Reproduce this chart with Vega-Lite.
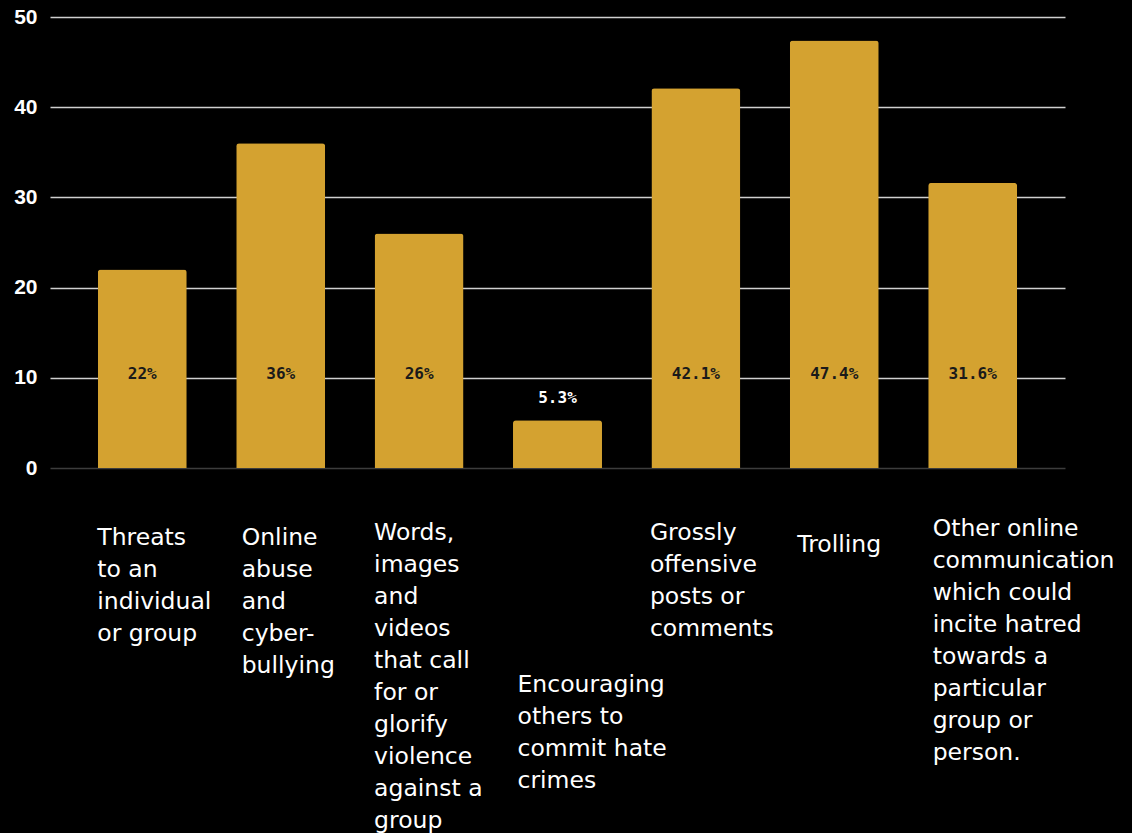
{
  "$schema": "https://vega.github.io/schema/vega-lite/v6.json",
  "width": 1015,
  "height": 451,
  "autosize": {"type": "none"},
  "padding": {"left": 50, "top": 17, "right": 67, "bottom": 365},
  "background": "#000000",
  "config": {"view": {"stroke": null}},
  "data": {
    "values": [
      {"category": "Threats|to an|individual|or group", "value": 22, "label": "22%"},
      {"category": "Online|abuse|and|cyber-|bullying", "value": 36, "label": "36%"},
      {"category": "Words,|images|and|videos|that call|for or|glorify|violence|against a|group", "value": 26, "label": "26%"},
      {"category": "Encouraging|others to|commit hate|crimes", "value": 5.3, "label": "5.3%"},
      {"category": "Grossly|offensive|posts or|comments", "value": 42.1, "label": "42.1%"},
      {"category": "Trolling", "value": 47.4, "label": "47.4%"},
      {"category": "Other online|communication|which could|incite hatred|towards a|particular|group or|person.", "value": 31.6, "label": "31.6%"}
    ]
  },
  "encoding": {
    "x": {
      "field": "category",
      "type": "nominal",
      "sort": null,
      "scale": {"paddingInner": 0.357, "paddingOuter": 0.3455},
      "axis": {
        "title": null,
        "domain": false,
        "ticks": false,
        "tickSize": 0,
        "labelAngle": 0,
        "labelAlign": "left",
        "labelBaseline": "top",
        "labelExpr": "split(datum.value, '|')",
        "labelFont": "DejaVu Sans, sans-serif",
        "labelFontSize": 23.5,
        "labelLineHeight": 32,
        "labelColor": "#ffffff",
        "labelLimit": 0,
        "labelOverlap": false,
        "labelOffset": {
          "condition": [
            {"test": "indexof(datum.value, 'Online|') === 0", "value": -39},
            {"test": "indexof(datum.value, 'Encouraging') === 0", "value": -40},
            {"test": "indexof(datum.value, 'Grossly') === 0", "value": -46},
            {"test": "datum.value === 'Trolling'", "value": -37},
            {"test": "indexof(datum.value, 'Other') === 0", "value": -40}
          ],
          "value": -45
        },
        "labelPadding": {
          "condition": [
            {"test": "indexof(datum.value, 'Words') === 0", "value": 52},
            {"test": "indexof(datum.value, 'Encouraging') === 0", "value": 204},
            {"test": "indexof(datum.value, 'Grossly') === 0", "value": 52},
            {"test": "datum.value === 'Trolling'", "value": 64},
            {"test": "indexof(datum.value, 'Other') === 0", "value": 48}
          ],
          "value": 57
        }
      }
    }
  },
  "layer": [
    {
      "mark": {"type": "bar", "color": "#D4A230", "cornerRadiusTopLeft": 3, "cornerRadiusTopRight": 3},
      "encoding": {
        "y": {
          "field": "value",
          "type": "quantitative",
          "scale": {"domain": [0, 50]},
          "axis": {
            "title": null,
            "domain": false,
            "ticks": false,
            "values": [0, 10, 20, 30, 40, 50],
            "grid": true,
            "gridColor": {"condition": {"test": "datum.value === 0", "value": "#3c3c3c"}, "value": "#cfcfcf"},
            "gridWidth": 1.5,
            "labelColor": "#ffffff",
            "labelFont": "Liberation Sans, Arial, sans-serif",
            "labelFontSize": 21,
            "labelFontWeight": "bold",
            "labelPadding": 13
          }
        }
      }
    },
    {
      "transform": [{"filter": "datum.value >= 10"}],
      "mark": {"type": "text", "font": "DejaVu Sans Mono", "fontWeight": "bold", "fontSize": 16, "letterSpacing": 0.6, "color": "#1a1a1a", "baseline": "middle"},
      "encoding": {
        "y": {"datum": 10.4, "type": "quantitative"},
        "text": {"field": "label"}
      }
    },
    {
      "transform": [{"filter": "datum.value < 10"}],
      "mark": {"type": "text", "font": "DejaVu Sans Mono", "fontWeight": "bold", "fontSize": 16, "letterSpacing": 0.6, "color": "#ffffff", "baseline": "middle", "dy": -22},
      "encoding": {
        "y": {"field": "value", "type": "quantitative"},
        "text": {"field": "label"}
      }
    }
  ]
}
